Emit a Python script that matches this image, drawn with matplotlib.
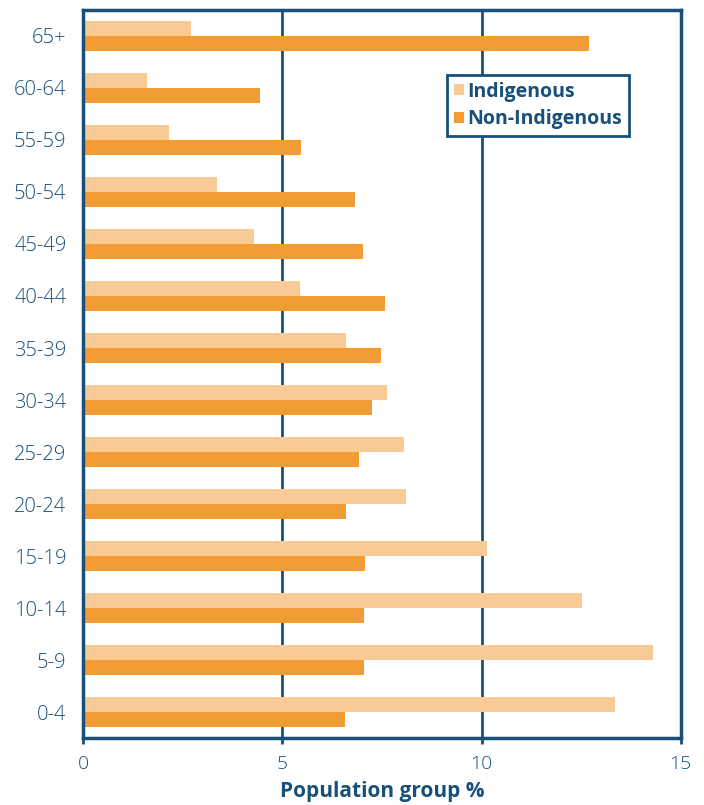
import matplotlib
matplotlib.use("Agg")
import matplotlib.pyplot as plt
import numpy as np
from matplotlib.patches import Patch

categories = ["65+", "60-64", "55-59", "50-54", "45-49", "40-44", "35-39",
              "30-34", "25-29", "20-24", "15-19", "10-14", "5-9", "0-4"]
indigenous = [2.7, 1.6, 2.15, 3.35, 4.3, 5.45, 6.6, 7.62, 8.05, 8.1, 10.13, 12.52, 14.3, 13.35]
non_indigenous = [12.7, 4.45, 5.47, 6.83, 7.03, 7.58, 7.47, 7.26, 6.93, 6.6, 7.08, 7.05, 7.05, 6.57]
xticks = [0, 5, 10, 15]

navy = "#17507a"
c_ind = "#F8CB96"
c_non = "#F39C35"

plt.rcParams['font.family'] = ['Open Sans', 'DejaVu Sans']

fig = plt.figure(figsize=(7.04, 8.05), dpi=100)
ax = fig.add_axes([0.118, 0.0832, 0.849, 0.9044])

y = np.arange(len(categories))
h = 0.29
ax.barh(y - h / 2, indigenous, height=h, color=c_ind, label="Indigenous", zorder=2)
ax.barh(y + h / 2, non_indigenous, height=h, color=c_non, label="Non-Indigenous", zorder=2)

ax.set_ylim(len(categories) - 0.5, -0.5)
ax.set_xlim(0, 15)
ax.set_yticks(y)
ax.set_yticklabels(categories, fontsize=14.5, color=navy, fontweight='light')
ax.set_xticks(xticks)
ax.set_xticklabels([str(t) for t in xticks], fontsize=14, color=navy, fontweight='light')
ax.tick_params(axis='y', length=0, pad=12)
ax.tick_params(axis='x', length=4, width=2, color=navy, pad=8)

for s in ax.spines.values():
    s.set_color(navy)
    s.set_linewidth(2.5)

for v in [5, 10]:
    ax.axvline(v, color=navy, linewidth=2, zorder=1)

ax.set_xlabel("Population group %", fontsize=15, fontweight='bold', color=navy, labelpad=6)

handles = [Patch(facecolor=c_ind, label="Indigenous"), Patch(facecolor=c_non, label="Non-Indigenous")]
leg = ax.legend(handles=handles, loc='upper left', bbox_to_anchor=(0.609, 0.911),
                frameon=True, fancybox=False, fontsize=14, handlelength=0.5, handleheight=0.5,
                handletextpad=0.2, borderpad=0.35, labelspacing=0.4, borderaxespad=0)
leg.get_frame().set_edgecolor(navy)
leg.get_frame().set_linewidth(2)
leg.get_frame().set_alpha(1)
for t in leg.get_texts():
    t.set_color(navy)
    t.set_fontweight('bold')

fig.savefig("out.png", dpi=100)
